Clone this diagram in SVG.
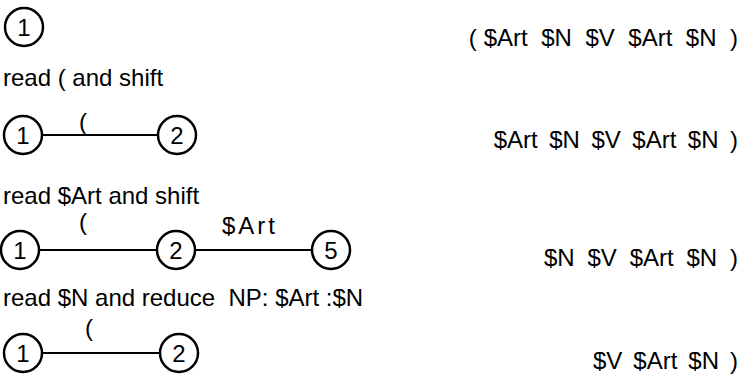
<svg xmlns="http://www.w3.org/2000/svg" width="742" height="375" viewBox="0 0 742 375">
  <style>
    text { font-family: "Liberation Sans", Arial, Helvetica, sans-serif; font-size: 24px; fill: #000; }
    .num { text-anchor: middle; }
    .state { fill: #fff; stroke: #000; stroke-width: 2.5; }
    .edge { stroke: #000; stroke-width: 2; fill: none; }
    .spaced { letter-spacing: 3px; }
  </style>

  <!-- step 0: start state, whole input pending -->
  <g id="s0-n1"><circle class="state" cx="24" cy="27" r="19"/><text class="num" x="24" y="35.5">1</text></g>
  <g id="s0-input">
    <text x="468.7" y="46">(</text><text x="483.7" y="46">$Art</text><text x="541.2" y="46">$N</text>
    <text x="585.4" y="46">$V</text><text x="628.3" y="46">$Art</text><text x="685.8" y="46">$N</text><text x="730" y="46">)</text>
  </g>

  <text x="3" y="86">read ( and shift</text>

  <!-- step 1 -->
  <g id="s1-edges">
    <line class="edge" x1="42" y1="135" x2="158" y2="135"/>
    <text x="79" y="130">(</text>
  </g>
  <g id="s1-n1"><circle class="state" cx="23" cy="135" r="19"/><text class="num" x="23" y="143.5">1</text></g>
  <g id="s1-n2"><circle class="state" cx="177" cy="135" r="19"/><text class="num" x="177" y="143.5">2</text></g>
  <g id="s1-input">
    <text x="493.7" y="148">$Art</text><text x="549.2" y="148">$N</text><text x="591.4" y="148">$V</text>
    <text x="632.3" y="148">$Art</text><text x="687.8" y="148">$N</text><text x="730" y="148">)</text>
  </g>

  <text x="3" y="204">read $Art and shift</text>

  <!-- step 2 -->
  <g id="s2-edges">
    <line class="edge" x1="39" y1="250" x2="157" y2="250"/>
    <line class="edge" x1="195" y1="250" x2="312" y2="250"/>
    <text x="79" y="230">(</text>
    <text class="spaced" x="222" y="234">$Art</text>
  </g>
  <g id="s2-n1"><circle class="state" cx="20" cy="250" r="19"/><text class="num" x="20" y="258.5">1</text></g>
  <g id="s2-n2"><circle class="state" cx="176" cy="250" r="19"/><text class="num" x="176" y="258.5">2</text></g>
  <g id="s2-n5"><circle class="state" cx="331" cy="250" r="19"/><text class="num" x="331" y="258.5">5</text></g>
  <g id="s2-input">
    <text x="544" y="266">$N</text><text x="587.5" y="266">$V</text><text x="629.7" y="266">$Art</text>
    <text x="686.5" y="266">$N</text><text x="730" y="266">)</text>
  </g>

  <text x="3" y="306" xml:space="preserve">read $N and reduce  NP: $Art :$N</text>

  <!-- step 3: after reducing the noun phrase -->
  <g id="s3-edges">
    <line class="edge" x1="42" y1="353" x2="160" y2="353"/>
    <text x="85" y="336">(</text>
  </g>
  <g id="s3-n1"><circle class="state" cx="23" cy="353" r="19"/><text class="num" x="23" y="361.5">1</text></g>
  <g id="s3-n2"><circle class="state" cx="179" cy="353" r="19"/><text class="num" x="179" y="361.5">2</text></g>
  <g id="s3-input">
    <text x="592.9" y="369">$V</text><text x="633.3" y="369">$Art</text><text x="688.3" y="369">$N</text><text x="730" y="369">)</text>
  </g>
</svg>
